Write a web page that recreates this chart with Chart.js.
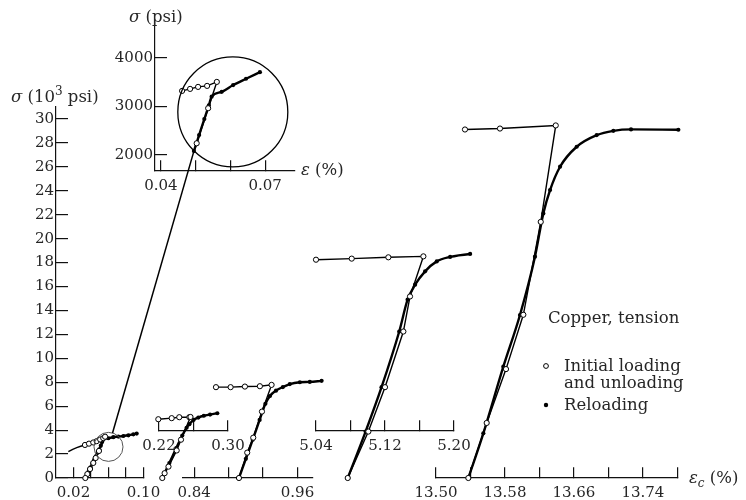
<!DOCTYPE html>
<html>
<head>
<meta charset="utf-8">
<script src="https://cdn.jsdelivr.net/npm/chart.js@4/dist/chart.umd.min.js"></script>
<style>
  html, body { margin: 0; padding: 0; background: #fff; }
  canvas { display: block; }
</style>
</head>
<body>
<canvas id="c" width="746" height="500"></canvas>
<script>
// Copper in tension: loading / unloading / reloading cycles.
// Strain in %, stress in 10^3 psi (main axes) and psi (inset).

// Cycle 1 (strain window 0 - 0.10)
const cycle1Open = [[0.0141,2.20],[0.0191,2.40],[0.0237,2.54],[0.0282,2.65],[0.0331,2.76],[0.0377,2.87],[0.0426,2.97],[0.0465,3.08],[0.0505,3.22],[0.0540,3.33],[0.0561,3.45],[0.0491,2.26],[0.0453,1.67],[0.0426,1.26],[0.0389,0.75],[0.0358,0.33],[0.0335,0]];
const cycle1Filled = [[0.0335,0],[0.0355,0.3],[0.0375,0.6],[0.0395,0.9],[0.0415,1.2],[0.0435,1.5],[0.0455,1.8],[0.0475,2.1],[0.0495,2.4],[0.0512,2.7],[0.0527,3.0],[0.0540,3.2],[0.0598,3.32],[0.0655,3.41],[0.0712,3.46],[0.0770,3.51],[0.0827,3.57],[0.0884,3.65],[0.0922,3.71]];

// Cycle 2 (window 0.22 - 0.30)
const cycle2Open = [[0.2192,4.91],[0.2347,5.00],[0.2435,5.08],[0.2552,5.08],[0.2565,5.10],[0.2455,3.20],[0.2405,2.30],[0.2310,0.95],[0.2265,0.40],[0.2238,0]];
const cycle2Filled = [[0.2238,0],[0.2320,1.25],[0.2400,2.5],[0.2470,3.55],[0.2520,4.2],[0.2552,4.5],[0.2600,4.85],[0.2656,5.05],[0.2720,5.2],[0.2792,5.3],[0.2876,5.41]];

// Cycle 3 (window 0.84 - 0.96)
const cycle3Open = [[0.8653,7.59],[0.8823,7.59],[0.8989,7.64],[0.9163,7.67],[0.9299,7.78],[0.9187,5.55],[0.9086,3.37],[0.9016,2.12],[0.8920,0]];
const cycle3Filled = [[0.8920,0],[0.9000,1.6],[0.9080,3.2],[0.9160,4.85],[0.9227,6.2],[0.9280,6.85],[0.9350,7.3],[0.9430,7.6],[0.9511,7.85],[0.9627,8.0],[0.9743,8.03],[0.9880,8.12]];

// Cycle 4 (window 5.04 - 5.20)
const cycle4Open = [[5.0400,18.24],[5.0814,18.33],[5.1239,18.44],[5.1645,18.52],[5.1490,15.17],[5.1413,12.24],[5.1200,7.59],[5.1007,3.88],[5.0768,0]];
const cycle4Filled = [[5.0768,0],[5.0975,3.88],[5.1160,7.59],[5.1365,12.24],[5.1462,14.9],[5.1549,16.15],[5.1665,17.27],[5.1800,18.10],[5.1955,18.47],[5.2187,18.72],[5.2419,18.80],[5.2816,18.89]];

// Cycle 5 (window 13.50 - 13.78)
const cycle5Open = [[13.5336,29.12],[13.5742,29.20],[13.6389,29.46],[13.6215,21.4],[13.6013,13.64],[13.5812,9.10],[13.5588,4.60],[13.5375,0]];
const cycle5Filled = [[13.5375,0],[13.5549,3.73],[13.5781,9.30],[13.5974,13.62],[13.6148,18.49],[13.6245,22.11],[13.6323,24.06],[13.6439,26.01],[13.6632,27.68],[13.6864,28.65],[13.7057,29.01],[13.7262,29.13],[13.7811,29.10]];

// Inset: first cycle near the yield corner (stress in psi)
const insetOpen = [[0.0461,3320],[0.0484,3361],[0.0507,3402],[0.0533,3423],[0.0561,3505],[0.0536,2963],[0.0503,2241],[0.0495,2080]];
const insetFilled = [[0.0495,2080],[0.0510,2410],[0.0525,2740],[0.0538,3020],[0.0546,3200],[0.0575,3300],[0.0608,3440],[0.0645,3570],[0.0685,3705]];

// Tick values and the ones that carry a label
const stressTicks = [0,2,4,6,8,10,12,14,16,18,20,22,24,26,28,30];
const insetStressTicks = [2000,3000,4000];
const x1Ticks = [0.02,0.04,0.06,0.08,0.10], x1Labels = ['0.02','0.10'];
const x2Ticks = [0.84,0.88,0.92,0.96], x2Labels = ['0.84','0.96'];
const x3Ticks = [0.22,0.26,0.30], x3Labels = ['0.22','0.30'];
const x4Ticks = [5.04,5.08,5.12,5.16,5.20], x4Labels = ['5.04','5.12','5.20'];
const x5Ticks = [13.50,13.54,13.58,13.62,13.66,13.70,13.74,13.78], x5Labels = ['13.50','13.58','13.66','13.74'];
const xInTicks = [0.04,0.05,0.06,0.07], xInLabels = ['0.04','0.07'];

const FAMILY = '"DejaVu Serif", "Liberation Serif", serif';
const FONT = { family: FAMILY, size: 15 };
const TEXT_SIZE = 16.5;
const INK = '#262626';
const AXIS = '#111';

// pixel boxes for each axis (the plot is a set of broken, offset axes)
const placement = {
  y:   { left: 0,   right: 56,  top: 107, bottom: 478 },
  yIn: { left: 100, right: 155, top: 20,  bottom: 171 },
  x1:  { left: 56,  right: 143.5 },
  x2:  { left: 183, right: 313 },
  x3:  { left: 159, right: 228 },
  x4:  { left: 316, right: 454 },
  x5:  { left: 436, right: 677.4 },
  xIn: { left: 155, right: 295 }
};

function strainAxis(min, max, ticks, labels, pos) {
  return {
    type: 'linear', axis: 'x', min, max, position: pos,
    afterBuildTicks: s => { s.ticks = ticks.map(v => ({ value: v })); },
    ticks: {
      font: FONT, color: INK, padding: 17, maxRotation: 0, autoSkip: false,
      callback: v => { const t = Number(v).toFixed(2); return labels.includes(t) ? t : ''; }
    },
    grid: { drawOnChartArea: false, tickLength: -11, color: AXIS, lineWidth: 1.2 },
    border: { color: AXIS, width: 1.2 }
  };
}

function stressAxis(min, max, ticks) {
  return {
    type: 'linear', axis: 'y', position: 'left', min, max,
    afterBuildTicks: s => { s.ticks = ticks.map(v => ({ value: v })); },
    ticks: { font: FONT, color: INK, padding: 14, autoSkip: false, callback: v => String(v) },
    grid: { drawOnChartArea: false, tickLength: -12, color: AXIS, lineWidth: 1.2 },
    border: { color: AXIS, width: 1.2 }
  };
}

const toXY = arr => arr.map(([x, y]) => ({ x, y }));

function openSet(arr, xId, yId, hideLast) {
  const n = arr.length;
  return {
    data: toXY(arr), xAxisID: xId, yAxisID: yId, showLine: true, clip: false,
    borderColor: '#000', borderWidth: 1.4, tension: 0,
    pointStyle: 'circle',
    pointRadius: arr.map((_, i) => (hideLast && i === n - 1) ? 0 : 2.6),
    pointBackgroundColor: '#fff', pointBorderColor: '#000', pointBorderWidth: 1
  };
}
function filledSet(arr, xId, yId) {
  return {
    data: toXY(arr), xAxisID: xId, yAxisID: yId, showLine: true, clip: false,
    borderColor: '#000', borderWidth: 2.4, cubicInterpolationMode: 'monotone',
    pointStyle: 'circle', pointRadius: 2.1,
    pointBackgroundColor: '#000', pointBorderColor: '#000', pointBorderWidth: 0
  };
}

// draws a run of text pieces (italic symbols, superscripts, subscripts)
function runText(ctx, x, y, parts) {
  ctx.fillStyle = INK;
  ctx.textBaseline = 'alphabetic';
  ctx.textAlign = 'left';
  for (const p of parts) {
    const size = (p.sup || p.sub) ? 12 : TEXT_SIZE;
    ctx.font = (p.it ? 'italic ' : '') + size + 'px ' + FAMILY;
    const dy = p.sup ? -7 : (p.sub ? 4 : 0);
    ctx.fillText(p.t, x, y + dy);
    x += ctx.measureText(p.t).width;
  }
}

const layoutAndNotes = {
  id: 'layoutAndNotes',
  afterLayout(chart) {
    for (const [id, box] of Object.entries(placement)) {
      const s = chart.scales[id];
      if (!s) continue;
      Object.assign(s, box);
      s.width = s.right - s.left;
      s.height = s.bottom - s.top;
      s._labelItems = null;
      s._gridLineItems = null;
      s.configure();
    }
  },
  afterDraw(chart) {
    const { ctx, scales } = chart;
    ctx.save();

    // magnifier circles and the connecting line
    const mc = { x: scales.x1.getPixelForValue(0.06), y: scales.y.getPixelForValue(2.6), r: 14.5 };
    const ic = { x: scales.xIn.getPixelForValue(0.0607), y: scales.yIn.getPixelForValue(2887), r: 55 };
    ctx.lineWidth = 1;
    ctx.strokeStyle = '#555';
    ctx.beginPath(); ctx.arc(mc.x, mc.y, mc.r, 0, Math.PI * 2); ctx.stroke();
    ctx.lineWidth = 1.3;
    ctx.strokeStyle = '#000';
    ctx.beginPath(); ctx.arc(ic.x, ic.y, ic.r, 0, Math.PI * 2); ctx.stroke();

    const end = { x: scales.xIn.getPixelForValue(0.0495), y: scales.yIn.getPixelForValue(2080) };
    const dx = end.x - mc.x, dy = end.y - mc.y, len = Math.hypot(dx, dy);
    ctx.lineWidth = 1.5;
    ctx.beginPath();
    ctx.moveTo(mc.x + dx / len * mc.r, mc.y + dy / len * mc.r);
    ctx.lineTo(end.x, end.y);
    ctx.stroke();

    // axis titles
    runText(ctx, 11, 102, [{ t: 'σ', it: true }, { t: ' (10' }, { t: '3', sup: true }, { t: ' psi)' }]);
    runText(ctx, 129, 22, [{ t: 'σ', it: true }, { t: ' (psi)' }]);
    runText(ctx, 301, 175, [{ t: 'ε', it: true }, { t: ' (%)' }]);
    runText(ctx, 689, 483, [{ t: 'ε', it: true }, { t: 'c', it: true, sub: true }, { t: ' (%)' }]);

    // key
    runText(ctx, 548, 323, [{ t: 'Copper, tension' }]);
    ctx.lineWidth = 1;
    ctx.strokeStyle = '#000';
    ctx.fillStyle = '#fff';
    ctx.beginPath(); ctx.arc(546, 366, 2.4, 0, Math.PI * 2); ctx.fill(); ctx.stroke();
    runText(ctx, 564, 371, [{ t: 'Initial loading' }]);
    runText(ctx, 564, 388, [{ t: 'and unloading' }]);
    ctx.fillStyle = '#000';
    ctx.beginPath(); ctx.arc(546, 405, 2.2, 0, Math.PI * 2); ctx.fill();
    runText(ctx, 564, 410, [{ t: 'Reloading' }]);

    ctx.restore();
  }
};

new Chart(document.getElementById('c'), {
  type: 'scatter',
  data: {
    datasets: [
      openSet(cycle1Open, 'x1', 'y'),
      openSet(cycle2Open, 'x3', 'y'),
      openSet(cycle3Open, 'x2', 'y'),
      openSet(cycle4Open, 'x4', 'y'),
      openSet(cycle5Open, 'x5', 'y'),
      openSet(insetOpen, 'xIn', 'yIn', true),
      filledSet(cycle1Filled, 'x1', 'y'),
      filledSet(cycle2Filled, 'x3', 'y'),
      filledSet(cycle3Filled, 'x2', 'y'),
      filledSet(cycle4Filled, 'x4', 'y'),
      filledSet(cycle5Filled, 'x5', 'y'),
      filledSet(insetFilled, 'xIn', 'yIn')
    ]
  },
  options: {
    responsive: false,
    devicePixelRatio: 1,
    animation: false,
    events: [],
    layout: { padding: 0 },
    plugins: { legend: { display: false }, tooltip: { enabled: false } },
    scales: {
      y: stressAxis(0, 31, stressTicks),
      yIn: stressAxis(1670, 4780, insetStressTicks),
      x1: strainAxis(0, 0.10, x1Ticks, x1Labels, { y: 0 }),
      x2: strainAxis(0.827, 0.978, x2Ticks, x2Labels, { y: 0 }),
      x3: strainAxis(0.22, 0.30, x3Ticks, x3Labels, { y: 3.95 }),
      x4: strainAxis(5.04, 5.20, x4Ticks, x4Labels, { y: 3.95 }),
      x5: strainAxis(13.50, 13.78, x5Ticks, x5Labels, { y: 0 }),
      xIn: strainAxis(0.0383, 0.0786, xInTicks, xInLabels, { yIn: 1670 })
    }
  },
  plugins: [layoutAndNotes]
});
</script>
</body>
</html>
